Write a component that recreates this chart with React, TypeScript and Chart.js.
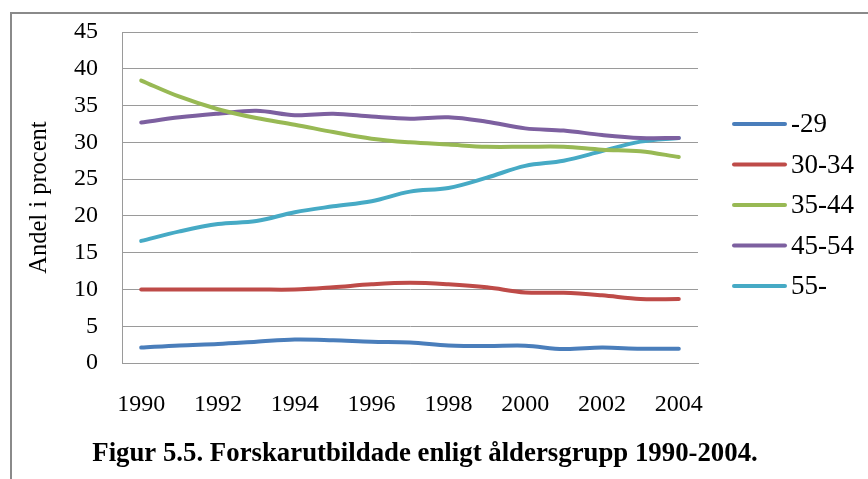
import React, { useEffect, useRef } from 'react';
import { Chart, registerables } from 'chart.js';

Chart.register(...registerables);

const years = ['1990', '1991', '1992', '1993', '1994', '1995', '1996', '1997', '1998', '1999', '2000', '2001', '2002', '2003', '2004'];
const shownYears = ['1990', '1992', '1994', '1996', '1998', '2000', '2002', '2004'];
const seriesNames = ['-29', '30-34', '35-44', '45-54', '55-'];
const seriesColors = ['#4A7EBB', '#BE4B48', '#98B954', '#7D60A0', '#46AAC5'];

const age29 = [2.1, 2.4, 2.6, 2.9, 3.2, 3.1, 2.9, 2.8, 2.4, 2.3, 2.35, 1.9, 2.1, 1.95, 1.95];
const age30to34 = [10.0, 10.0, 10.0, 10.0, 10.0, 10.3, 10.7, 10.9, 10.7, 10.3, 9.6, 9.55, 9.2, 8.7, 8.7];
const age35to44 = [38.4, 36.2, 34.5, 33.3, 32.4, 31.4, 30.5, 30.0, 29.7, 29.4, 29.4, 29.4, 29.0, 28.8, 28.0];
const age45to54 = [32.7, 33.4, 33.9, 34.3, 33.7, 33.9, 33.5, 33.2, 33.4, 32.8, 31.9, 31.6, 31.0, 30.6, 30.6];
const age55 = [16.6, 17.9, 18.9, 19.3, 20.5, 21.3, 22.0, 23.3, 23.8, 25.2, 26.8, 27.5, 28.8, 30.1, 30.6];

const seriesValues = [age29, age30to34, age35to44, age45to54, age55];

const yTitle = 'Andel i procent';
const captionText = 'Figur 5.5. Forskarutbildade enligt åldersgrupp 1990-2004.';

const FONT = '"Liberation Serif", serif';

const sideLegend = {
  id: 'sideLegend',
  afterDraw(chart: any) {
    const { ctx, chartArea } = chart;
    const ds = chart.data.datasets;
    const x0 = chartArea.right + 34;
    const step = 40.5;
    const cy = (chartArea.top + chartArea.bottom) / 2 + 7.5;
    const y0 = cy - (step * (ds.length - 1)) / 2;
    ctx.save();
    ds.forEach((d: any, i: number) => {
      const y = y0 + i * step;
      ctx.beginPath();
      ctx.strokeStyle = d.borderColor;
      ctx.lineWidth = 4;
      ctx.lineCap = 'round';
      ctx.moveTo(x0 + 2, y);
      ctx.lineTo(x0 + 53, y);
      ctx.stroke();
      ctx.fillStyle = '#000';
      ctx.font = `27px ${FONT}`;
      ctx.textBaseline = 'middle';
      ctx.textAlign = 'left';
      ctx.fillText(d.label, x0 + 59, y + 1);
    });
    ctx.restore();
  },
};

export default function App() {
  const ref = useRef<HTMLCanvasElement | null>(null);

  useEffect(() => {
    if (!ref.current) return;
    const chart = new Chart(ref.current, {
      type: 'line',
      data: {
        labels: years,
        datasets: seriesNames.map((name, i) => ({
          label: name,
          data: seriesValues[i],
          borderColor: seriesColors[i],
          backgroundColor: seriesColors[i],
          borderWidth: 4,
          borderCapStyle: 'round' as const,
          borderJoinStyle: 'round' as const,
          pointRadius: 0,
          tension: 0.35,
          fill: false,
          yAxisID: 'y',
        })),
      },
      options: {
        animation: false,
        responsive: true,
        maintainAspectRatio: false,
        layout: { padding: { left: 20, top: 32, right: 38, bottom: 0 } },
        plugins: {
          legend: { display: false },
          tooltip: { enabled: false },
          title: {
            display: true,
            position: 'bottom',
            text: captionText,
            color: '#000',
            font: { family: FONT, size: 26.8, weight: 'bold' },
            padding: { top: 15, bottom: 8.8 },
          },
        },
        scales: {
          x: {
            type: 'category',
            offset: true,
            grid: { display: false, drawTicks: false },
            border: { display: true, color: '#9a9a9a', width: 1 },
            afterFit: (scale: any) => {
              scale.height = 60;
            },
            ticks: {
              autoSkip: false,
              maxRotation: 0,
              padding: 27,
              color: '#000',
              font: { family: FONT, size: 24 },
              callback: (_v: any, index: number) => (shownYears.includes(years[index]) ? years[index] : ''),
            },
          },
          y: {
            min: 0,
            max: 45,
            grid: { color: '#9a9a9a', lineWidth: 1, drawTicks: false },
            border: { display: true, color: '#9a9a9a', width: 1 },
            afterFit: (scale: any) => {
              scale.width = 102;
              scale.paddingTop = 0;
              scale.paddingBottom = 0;
            },
            ticks: {
              stepSize: 5,
              padding: 24,
              color: '#000',
              font: { family: FONT, size: 24 },
            },
            title: {
              display: true,
              text: yTitle,
              color: '#000',
              font: { family: FONT, size: 24.5 },
              padding: { top: 5.3, bottom: 0 },
            },
          },
          legendSpace: {
            type: 'linear',
            position: 'right',
            display: true,
            min: 0,
            max: 45,
            grid: { display: false, drawTicks: false },
            border: { display: false },
            ticks: { display: false },
            afterFit: (scale: any) => {
              scale.width = 132;
              scale.paddingTop = 0;
              scale.paddingBottom = 0;
            },
          },
        },
      },
      plugins: [sideLegend],
    });
    return () => chart.destroy();
  }, []);

  return (
    <div style={{ position: 'absolute', left: 0, top: 0, width: 868, height: 479, overflow: 'hidden', background: '#fff' }}>
      <div
        style={{
          position: 'absolute',
          left: 10,
          top: 12,
          width: 900,
          height: 500,
          borderLeft: '2px solid #8a8a8a',
          borderTop: '2px solid #8a8a8a',
          boxSizing: 'border-box',
        }}
      />
      <div style={{ position: 'absolute', left: 0, top: 0, width: 868, height: 479 }}>
        <canvas ref={ref} />
      </div>
    </div>
  );
}
